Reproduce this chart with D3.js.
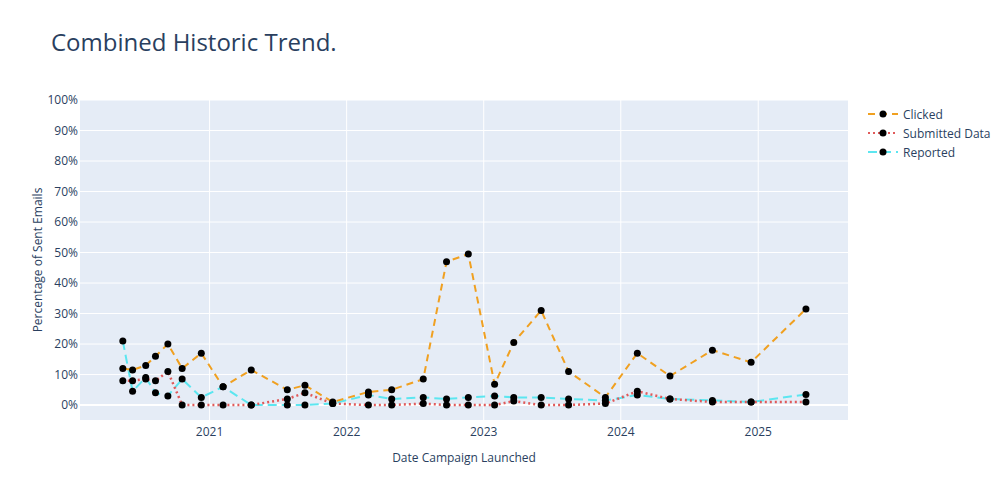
<!DOCTYPE html><html><head><meta charset="utf-8">
<script src="https://cdn.jsdelivr.net/npm/d3@7"></script>
<style>body{margin:0;background:#fff;font-family:"Open Sans",sans-serif}</style></head><body>
<svg id="c" width="1008" height="500"></svg>
<script>
const dates=["2020-05-15","2020-06-10","2020-07-15","2020-08-10","2020-09-12","2020-10-20","2020-12-10","2021-02-06","2021-04-22","2021-07-27","2021-09-12","2021-11-25","2022-02-28","2022-05-01","2022-07-24","2022-09-24","2022-11-21","2023-01-30","2023-03-22","2023-06-03","2023-08-15","2023-11-21","2024-02-14","2024-05-11","2024-09-01","2024-12-13","2025-05-08"];
const clicked=[12,11.5,13,16,20,12,17,6,11.5,5,6.5,1,4.3,5,8.5,47,49.5,6.8,20.5,31,11,2.5,17,9.5,18,14,31.5];
const submitted=[8,8,8.5,8,11,0,0,0,0,2,4,0.5,0,0,0.5,0,0,0,1.3,0,0,0.5,4.5,2,1,1,1];
const reported=[21,4.5,9,4,3,8.5,2.5,6,0,0,0,0.5,3.3,2,2.5,2,2.5,3,2.5,2.5,2,1.5,3.3,2,1.5,1,3.5];
const yTicks=[0,10,20,30,40,50,60,70,80,90,100];
const series=[{name:"Clicked",vals:clicked,color:"#f0a020",dash:"7,5",w:2},
{name:"Submitted Data",vals:submitted,color:"#e05a5a",dash:"2,3",w:2.5},
{name:"Reported",vals:reported,color:"#5ce6f0",dash:"9,5",w:2}];
const svg=d3.select("#c");
const L=80,R=848,T=100,B=420;
const parse=d3.timeParse("%Y-%m-%d");
const xd=dates.map(parse);
const x=d3.scaleTime().domain([new Date(2020,0,22),new Date(2025,7,28)]).range([L,R]);
const y=d3.scaleLinear().domain([-4.9,100]).range([B,T]);
svg.append("rect").attr("x",L).attr("y",T).attr("width",R-L).attr("height",B-T).attr("fill","#e5ecf6");
const xt=[2021,2022,2023,2024,2025].map(v=>new Date(v,0,1));
svg.append("g").selectAll("line").data(xt).join("line").attr("x1",d=>x(d)).attr("x2",d=>x(d)).attr("y1",T).attr("y2",B).attr("stroke","#fff");
svg.append("g").selectAll("line").data(yTicks).join("line").attr("x1",L).attr("x2",R).attr("y1",d=>y(d)).attr("y2",d=>y(d)).attr("stroke","#fff").attr("stroke-width",d=>d===0?2:1);
svg.append("g").selectAll("text").data(xt).join("text").attr("x",d=>x(d)).attr("y",B+16).attr("text-anchor","middle").attr("font-size",12).attr("fill","#2a3f5f").text(d=>d.getFullYear());
svg.append("g").selectAll("text").data(yTicks).join("text").attr("x",L-2).attr("y",d=>y(d)+4).attr("text-anchor","end").attr("font-size",12).attr("fill","#2a3f5f").text(d=>d+"%");
svg.append("text").attr("x",(L+R)/2).attr("y",462).attr("text-anchor","middle").attr("font-size",12).attr("fill","#2a3f5f").text("Date Campaign Launched");
svg.append("text").attr("transform",`translate(42,${(T+B)/2}) rotate(-90)`).attr("text-anchor","middle").attr("font-size",12).attr("fill","#2a3f5f").text("Percentage of Sent Emails");
svg.append("text").attr("x",51).attr("y",51).attr("font-size",24).attr("fill","#2a3f5f").text("Combined Historic Trend.");
const line=d3.line().x((d,i)=>x(xd[i])).y(d=>y(d));
series.slice().reverse().forEach(s=>{
svg.append("path").attr("d",line(s.vals)).attr("fill","none").attr("stroke",s.color).attr("stroke-width",s.w).attr("stroke-dasharray",s.dash);
});
series.forEach(s=>{
svg.append("g").selectAll("circle").data(s.vals).join("circle").attr("cx",(d,i)=>x(xd[i])).attr("cy",d=>y(d)).attr("r",3.5).attr("fill","#000");
});
const lg=svg.append("g").attr("transform","translate(868,114)");
series.forEach((s,i)=>{
const g=lg.append("g").attr("transform",`translate(0,${i*19})`);
g.append("line").attr("x1",0).attr("x2",30).attr("stroke",s.color).attr("stroke-width",2).attr("stroke-dasharray",s.dash);
g.append("circle").attr("cx",15).attr("r",3.5).attr("fill","#000");
g.append("text").attr("x",35).attr("y",4.5).attr("font-size",12).attr("fill","#2a3f5f").text(s.name);
});
</script></body></html>
